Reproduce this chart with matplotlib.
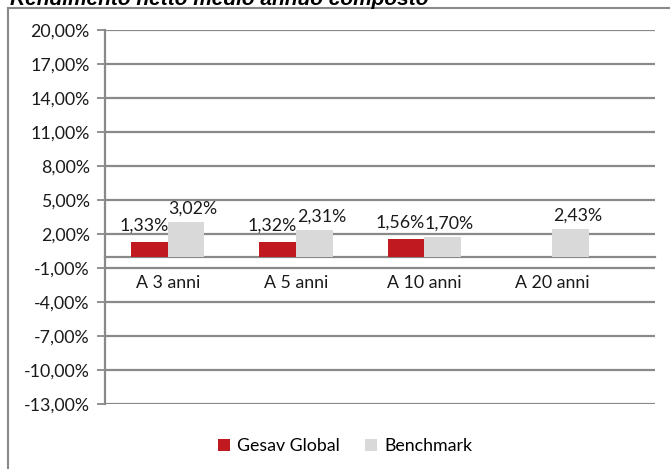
import matplotlib
matplotlib.use("Agg")
import matplotlib.pyplot as plt
from matplotlib.lines import Line2D
import numpy as np

categories = ["A 3 anni", "A 5 anni", "A 10 anni", "A 20 anni"]
gesav = [1.33, 1.32, 1.56, np.nan]
bench = [3.02, 2.31, 1.70, 2.43]
yticks = [20, 17, 14, 11, 8, 5, 2, -1, -4, -7, -10, -13]
title = "Rendimento netto medio annuo composto"

RED = "#C0191F"
GREY = "#D9D9D9"
LINE = "#898989"
TXT = "#1a1a1a"

plt.rcParams["font.family"] = "Lato"
plt.rcParams["font.size"] = 12.8

W, H = 670, 469
fig = plt.figure(figsize=(W / 100, H / 100), dpi=100)
ax = fig.add_axes([105 / W, 1 - 404 / H, 550 / W, 374 / H])

x = np.arange(len(categories))
bw = 0.286
ax.bar(x - bw / 2, gesav, bw, color=RED, label="Gesav Global", zorder=3)
ax.bar(x + bw / 2, bench, bw, color=GREY, label="Benchmark", zorder=3)

fmt = lambda v: f"{v:.2f}%".replace(".", ",")
for i in range(len(categories)):
    if not np.isnan(gesav[i]):
        ax.annotate(fmt(gesav[i]), (x[i] - bw / 2, gesav[i]), xytext=(-4, 6),
                    textcoords="offset points", ha="center", va="bottom", color=TXT)
    ax.annotate(fmt(bench[i]), (x[i] + bw / 2, bench[i]), xytext=(5, 4),
                textcoords="offset points", ha="center", va="bottom", color=TXT)

ax.spines["bottom"].set_position(("data", 0))
ax.spines["bottom"].set_color(LINE)
ax.spines["bottom"].set_linewidth(1.6)
ax.spines[["top", "right"]].set_visible(False)
ax.spines["left"].set_color(LINE)
ax.spines["left"].set_linewidth(1.6)

ax.set_ylim(-13, 20)
ax.set_xlim(-0.49, 3.8)
ax.set_yticks(yticks)
ax.set_yticklabels([fmt(v) for v in yticks])
ax.yaxis.grid(True, color=LINE, lw=1.6, zorder=0)
ax.tick_params(axis="y", length=6, width=1.3, color=LINE, pad=5, labelcolor=TXT)

ax.set_xticks(x)
ax.set_xticklabels(categories)
ax.tick_params(axis="x", length=0, pad=13, labelcolor=TXT)

# outer frame (cut by the image edges)
fig.add_artist(Line2D([7.5 / W, 1.0], [1 - 8 / H, 1 - 8 / H], color=LINE, lw=1.5))
fig.add_artist(Line2D([7.5 / W, 7.5 / W], [0, 1 - 8 / H], color=LINE, lw=1.5))

fig.text(10 / W, 1 - 5 / H, title, fontsize=15, fontweight="bold", style="italic",
         family="Liberation Sans", ha="left", va="baseline")

fig.legend(loc="center", bbox_to_anchor=(345 / W, 1 - 446 / H), ncol=2, frameon=False,
           handlelength=0.7, handleheight=0.7, handletextpad=0.4, columnspacing=1.4)

fig.savefig("out.png", dpi=100)
